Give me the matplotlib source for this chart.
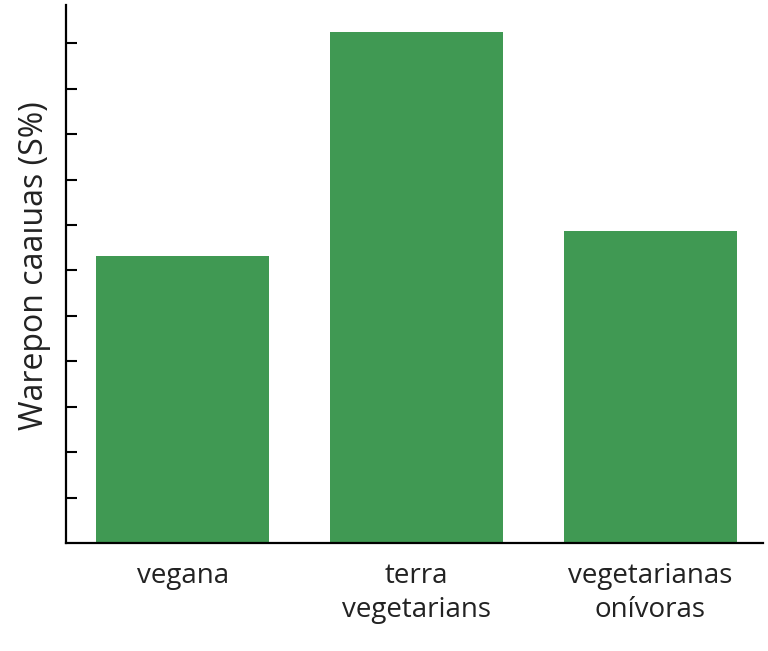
import matplotlib
matplotlib.use("Agg")
import matplotlib.pyplot as plt

# data
categories = ["vegana", "terra\nvegetarians", "vegetarianas\nonívoras"]
values = [6.31, 11.24, 6.86]
y_ticks = list(range(1, 12))

plt.rcParams['font.family'] = ['Open Sans', 'DejaVu Sans']

fig = plt.figure(figsize=(7.68, 6.51), dpi=100)
ax = fig.add_axes([0.086, 0.166, 0.907, 0.826])

ax.bar(range(len(categories)), values, width=0.74, color='#409953')

ax.set_xlim(-0.5, 2.48)
ax.set_ylim(0, 11.84)
ax.set_xticks(range(len(categories)))
ax.set_xticklabels(categories, fontsize=20, color='#222222', linespacing=1.25)
ax.set_yticks(y_ticks)
ax.set_yticklabels([])
ax.set_ylabel("Warepon caaıuas (S%)", fontsize=23, color='#222222')
ax.yaxis.set_label_coords(-0.021, 0.515)

# Remove frame top / right
ax.spines['top'].set_visible(False)
ax.spines['right'].set_visible(False)
ax.spines['left'].set_linewidth(1.6)
ax.spines['bottom'].set_linewidth(1.6)

ax.tick_params(axis='x', length=0, pad=14)
ax.tick_params(axis='y', direction='in', length=8, width=1.5)

fig.savefig("out.png", dpi=100)
